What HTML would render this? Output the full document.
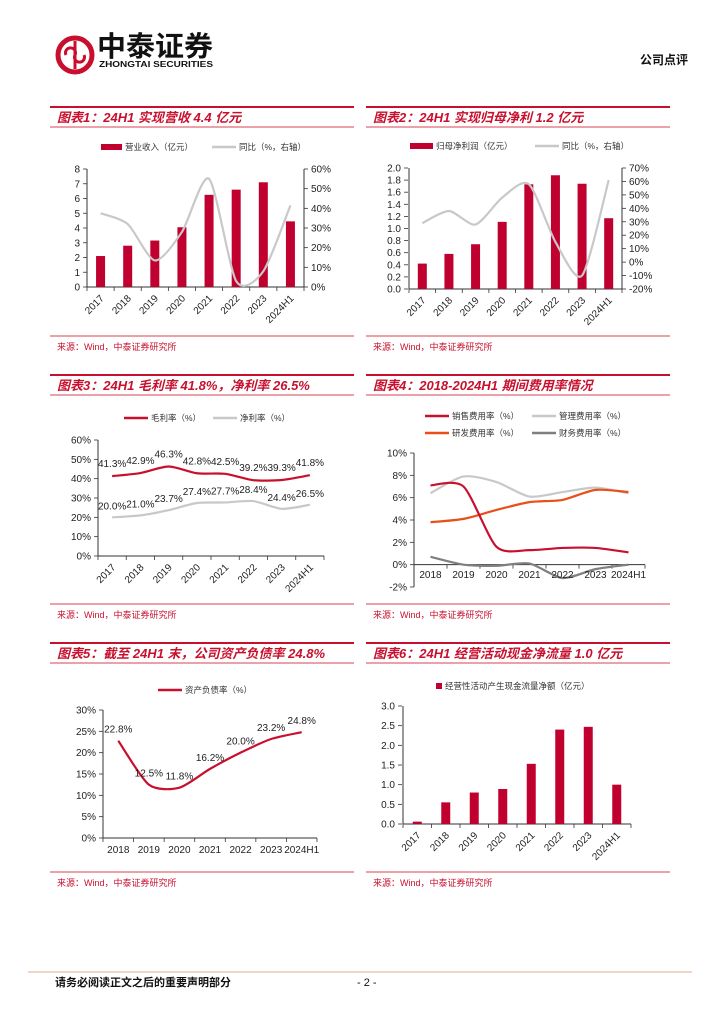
<!DOCTYPE html>
<html><head><meta charset="utf-8"><style>
html,body{margin:0;padding:0;background:#fff;}
svg{display:block;font-family:"Liberation Sans","Noto Sans CJK SC",sans-serif;}
.t{font-size:13px;font-weight:bold;font-style:italic;fill:#c8102e;}
.src{font-size:9px;fill:#c8102e;}
.tk{font-size:10px;fill:#222;}
.lg{font-size:8.5px;fill:#333;}
.dl{font-size:10px;fill:#222;}
</style></head><body>
<svg id="pg" width="724" height="1024" viewBox="0 0 724 1024" xmlns="http://www.w3.org/2000/svg">
<g>
<circle cx="75" cy="55" r="17" fill="none" stroke="#c8102e" stroke-width="5"/>
<path d="M75 41 V69 M66 55 a5 5 0 1 1 9 0 a5 5 0 1 0 9 0" fill="none" stroke="#c8102e" stroke-width="3"/>
<text x="97" y="56" font-size="28" font-weight="bold" fill="#111" textLength="116" lengthAdjust="spacingAndGlyphs">中泰证券</text>
<text x="99" y="67" font-size="8" font-weight="bold" fill="#111" textLength="114" lengthAdjust="spacingAndGlyphs">ZHONGTAI SECURITIES</text>
<text x="640" y="64" font-size="12" font-weight="bold" fill="#111">公司点评</text>
</g>
<g id="frames"></g>
<g id="charts"></g>
<line x1="28" y1="972" x2="692" y2="972" stroke="#ecc8b4" stroke-width="1.5"/>
<text x="55" y="986" font-size="11" font-weight="bold" fill="#111">请务必阅读正文之后的重要声明部分</text>
<text x="357" y="986" font-size="11" fill="#111">- 2 -</text>
</svg>
<script>
// Chart 1 data
const c1Cats=["2017","2018","2019","2020","2021","2022","2023","2024H1"];
const c1Rev=[2.1,2.8,3.15,4.05,6.25,6.6,7.1,4.45];
const c1Yoy=[37.5,32,13.5,28,55,3,8,41.5];
const c1LeftTicks=[0,1,2,3,4,5,6,7,8];
const c1RightTicks=[0,10,20,30,40,50,60];
// Chart 2 data
const c2Cats=["2017","2018","2019","2020","2021","2022","2023","2024H1"];
const c2Np=[0.42,0.58,0.74,1.11,1.73,1.88,1.74,1.17];
const c2Yoy=[29,38,28,48,58,15,-10,61];
const c2LeftTicks=[0,0.2,0.4,0.6,0.8,1.0,1.2,1.4,1.6,1.8,2.0];
const c2RightTicks=[-20,-10,0,10,20,30,40,50,60,70];
// Chart 3 data
const c3Cats=["2017","2018","2019","2020","2021","2022","2023","2024H1"];
const c3Gross=[41.3,42.9,46.3,42.8,42.5,39.2,39.3,41.8];
const c3Net=[20.0,21.0,23.7,27.4,27.7,28.4,24.4,26.5];
const c3Ticks=[0,10,20,30,40,50,60];
// Chart 4 data
const c4Cats=["2018","2019","2020","2021","2022","2023","2024H1"];
const c4Sales=[7.1,7.0,1.6,1.3,1.5,1.5,1.1];
const c4Admin=[6.4,7.9,7.4,6.1,6.5,6.9,6.4];
const c4Rd=[3.8,4.1,4.9,5.6,5.8,6.7,6.5];
const c4Fin=[0.7,0.0,-0.1,0.1,-1.2,-0.4,0.0];
const c4Ticks=[-2,0,2,4,6,8,10];
// Chart 5 data
const c5Cats=["2018","2019","2020","2021","2022","2023","2024H1"];
const c5Debt=[22.8,12.5,11.8,16.2,20.0,23.2,24.8];
const c5Ticks=[0,5,10,15,20,25,30];
// Chart 6 data
const c6Cats=["2017","2018","2019","2020","2021","2022","2023","2024H1"];
const c6Cf=[0.06,0.55,0.80,0.89,1.53,2.40,2.47,1.00];
const c6Ticks=[0,0.5,1.0,1.5,2.0,2.5,3.0];

const NS="http://www.w3.org/2000/svg";
function mk(tag,attrs,parent){const e=document.createElementNS(NS,tag);for(const k in attrs)e.setAttribute(k,attrs[k]);if(parent)parent.appendChild(e);return e;}
function lin(d0,d1,r0,r1){return v=>r0+(v-d0)/(d1-d0)*(r1-r0);}
function band(n,x0,x1){const w=(x1-x0)/n;return i=>x0+w*(i+0.5);}
function smooth(pts){const k=8;let d="M"+pts[0][0]+" "+pts[0][1];for(let i=0;i<pts.length-1;i++){const p0=pts[i-1]||pts[i],p1=pts[i],p2=pts[i+1],p3=pts[i+2]||p2;const c1x=p1[0]+(p2[0]-p0[0])/k,c1y=p1[1]+(p2[1]-p0[1])/k,c2x=p2[0]-(p3[0]-p1[0])/k,c2y=p2[1]-(p3[1]-p1[1])/k;d+=` C${c1x} ${c1y} ${c2x} ${c2y} ${p2[0]} ${p2[1]}`;}return d;}

const frames=document.getElementById('frames');
const charts=document.getElementById('charts');
const titles=[["图表1：24H1 实现营收 4.4 亿元","图表2：24H1 实现归母净利 1.2 亿元"],["图表3：24H1 毛利率 41.8%，净利率 26.5%","图表4：2018-2024H1 期间费用率情况"],["图表5：截至 24H1 末，公司资产负债率 24.8%","图表6：24H1 经营活动现金净流量 1.0 亿元"]];
for(let r=0;r<3;r++){for(let c=0;c<2;c++){
 const x0=c?366:50,x1=c?670:354,oy=r*268;
 const tl=mk('line',{x1:x0,x2:x1,y1:107+oy,y2:107+oy,stroke:'#c8102e','stroke-width':2},frames);
 
 
 const bl=mk('line',{x1:x0,x2:x1,y1:127+oy,y2:127+oy,stroke:'#d84050','stroke-width':1},frames);
 
 
 const t=mk('text',{x:x0+7,y:122+oy,class:'t'},frames);t.textContent=titles[r][c];
 
 
 const sl=mk('line',{x1:x0,x2:x1,y1:336+oy,y2:336+oy,stroke:'#d84050','stroke-width':1},frames);
 
 
 const s=mk('text',{x:x0+7,y:350+oy,class:'src'},frames);s.textContent="来源：Wind，中泰证券研究所";
 
 
}}

function yTicks(g,ticks,sy,x,fmt,anchor){ticks.forEach(v=>{const t=mk('text',{x:x,y:sy(v)+3.5,class:'tk','text-anchor':anchor},g);t.textContent=fmt(v);
 
 
 const l=mk('line',{x1:anchor==='end'?x+3:x-7,x2:anchor==='end'?x+7:x-3,y1:sy(v),y2:sy(v),stroke:'#333','stroke-width':0.8},g);
 
 });}
function axisLine(g,x1,y1,x2,y2,name){const l=mk('line',{x1,y1,x2,y2,stroke:'#333','stroke-width':1},g);
 
 }
function xLabelsRot(g,cats,sx,y){cats.forEach((c,i)=>{const t=mk('text',{x:sx(i)+4,y:y,class:'tk','text-anchor':'end',transform:`rotate(-45 ${sx(i)+4} ${y})`},g);t.textContent=c;
 
 });}
function xLabelsFlat(g,cats,sx,y){cats.forEach((c,i)=>{const t=mk('text',{x:sx(i),y:y,class:'tk','text-anchor':'middle'},g);t.textContent=c;
 
 });}
function xTickMarks(g,n,x0,x1,y){const w=(x1-x0)/n;for(let i=0;i<=n;i++){const l=mk('line',{x1:x0+w*i,x2:x0+w*i,y1:y,y2:y+4,stroke:'#333','stroke-width':0.8},g);
 
 }}
function bars(g,vals,sx,sy,w,name){vals.forEach((v,i)=>{const r=mk('rect',{x:sx(i)-w/2,y:sy(v),width:w,height:sy(0)-sy(v),fill:'#c0002f'},g);
 
 });}
function line(g,vals,sx,sy,color,name,w){const p=mk('path',{d:smooth(vals.map((v,i)=>[sx(i),sy(v)])),fill:'none',stroke:color,'stroke-width':w||2.2},g);
 
 }
function legLine(g,x,y,color,label,w){const l=mk('line',{x1:x,x2:x+24,y1:y,y2:y,stroke:color,'stroke-width':2.4},g);
 
 
 const t=mk('text',{x:x+27,y:y+3,class:'lg'},g);t.textContent=label;
 
 }
function legRect(g,x,y,w,label){const r=mk('rect',{x:x,y:y-3,width:w,height:6,fill:'#c0002f'},g);
 
 
 const t=mk('text',{x:x+w+3,y:y+3,class:'lg'},g);t.textContent=label;
 
 }
function labels(g,vals,sx,sy,off){vals.forEach((v,i)=>{const t=mk('text',{x:sx(i),y:sy(v)-off,class:'dl','text-anchor':'middle'},g);t.textContent=v.toFixed(1)+'%';
 
 });}

// Chart 1
{const g=mk('g',{},charts);


const sx=band(c1Cats.length,87,304),sy=lin(0,8,287,169),sy2=lin(0,60,287,169);
legRect(g,101,147,21,"营业收入（亿元）");legLine(g,212,147,'#c8c8c8',"同比（%，右轴）");
axisLine(g,87,169,87,287,'left-axis');axisLine(g,304,169,304,287,'right-axis');axisLine(g,87,287,304,287,'x-axis');
yTicks(g,c1LeftTicks,sy,80,v=>v,'end');yTicks(g,c1RightTicks,sy2,311,v=>v+'%','start');
xTickMarks(g,c1Cats.length,87,304,287);
bars(g,c1Rev,sx,sy,9,'revenue-bar');line(g,c1Yoy,sx,sy2,'#c8c8c8','revenue-yoy-line');
xLabelsRot(g,c1Cats,sx,299);}
// Chart 2
{const g=mk('g',{},charts);


const sx=band(c2Cats.length,409,622),sy=lin(0,2,289,168),sy2=lin(-20,70,289,168);
legRect(g,410,146,23,"归母净利润（亿元）");legLine(g,535,146,'#c8c8c8',"同比（%，右轴）");
axisLine(g,409,168,409,289,'left-axis');axisLine(g,622,168,622,289,'right-axis');axisLine(g,409,289,622,289,'x-axis');
yTicks(g,c2LeftTicks,sy,401,v=>v.toFixed(1),'end');yTicks(g,c2RightTicks,sy2,629,v=>v+'%','start');
xTickMarks(g,c2Cats.length,409,622,289);
bars(g,c2Np,sx,sy,9,'net-profit-bar');line(g,c2Yoy,sx,sy2,'#c8c8c8','net-profit-yoy-line');
xLabelsRot(g,c2Cats,sx,301);}
// Chart 3
{const g=mk('g',{},charts);


const sx=band(c3Cats.length,98,324),sy=lin(0,60,556,440);
legLine(g,124,418,'#c8102e',"毛利率（%）");legLine(g,213,418,'#c8c8c8',"净利率（%）");
axisLine(g,98,440,98,556,'left-axis');axisLine(g,98,556,324,556,'x-axis');
yTicks(g,c3Ticks,sy,91,v=>v+'%','end');xTickMarks(g,c3Cats.length,98,324,556);
line(g,c3Gross,sx,sy,'#c8102e','gross-margin-line');line(g,c3Net,sx,sy,'#c8c8c8','net-margin-line');
labels(g,c3Gross,sx,sy,9);labels(g,c3Net,sx,sy,8);
xLabelsRot(g,c3Cats,sx,568);}
// Chart 4
{const g=mk('g',{},charts);


const sx=band(c4Cats.length,414,645),sy=lin(-2,10,587,453);
legLine(g,425,416,'#c8102e',"销售费用率（%）");legLine(g,532,416,'#c8c8c8',"管理费用率（%）");
legLine(g,425,433,'#e8501a',"研发费用率（%）");legLine(g,532,433,'#7f7f7f',"财务费用率（%）");
axisLine(g,414,453,414,587,'left-axis');axisLine(g,414,sy(0),645,sy(0),'x-axis');
yTicks(g,c4Ticks,sy,407,v=>v+'%','end');xTickMarks(g,c4Cats.length,414,645,sy(0));
line(g,c4Admin,sx,sy,'#c8c8c8','admin-expense-line');line(g,c4Rd,sx,sy,'#e8501a','rd-expense-line');
line(g,c4Sales,sx,sy,'#c8102e','sales-expense-line');line(g,c4Fin,sx,sy,'#7f7f7f','finance-expense-line');
xLabelsFlat(g,c4Cats,sx,578);}
// Chart 5
{const g=mk('g',{},charts);


const sx=band(c5Cats.length,103,317),sy=lin(0,30,838,710);
legLine(g,158,690,'#c8102e',"资产负债率（%）");
axisLine(g,103,710,103,838,'left-axis');axisLine(g,103,838,317,838,'x-axis');
yTicks(g,c5Ticks,sy,96,v=>v+'%','end');xTickMarks(g,c5Cats.length,103,317,838);
line(g,c5Debt,sx,sy,'#c8102e','debt-ratio-line');labels(g,c5Debt,sx,sy,8);
xLabelsFlat(g,c5Cats,sx,853);}
// Chart 6
{const g=mk('g',{},charts);


const sx=band(c6Cats.length,403,631),sy=lin(0,3,824,706);
legRect(g,436,686,6,"经营性活动产生现金流量净额（亿元）");
axisLine(g,403,706,403,824,'left-axis');axisLine(g,403,824,631,824,'x-axis');
yTicks(g,c6Ticks,sy,395,v=>v.toFixed(1),'end');xTickMarks(g,c6Cats.length,403,631,824);
bars(g,c6Cf,sx,sy,9,'cash-flow-bar');
xLabelsRot(g,c6Cats,sx,836);}
</script>
</body></html>
